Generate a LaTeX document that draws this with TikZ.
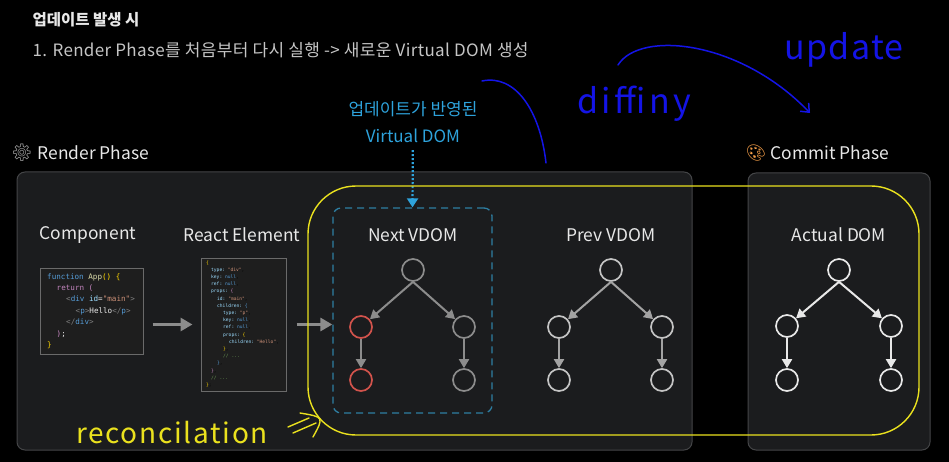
\documentclass[tikz,border=0pt]{standalone}
\usepackage{fontspec}
\setmainfont{Noto Sans CJK KR}
\setmonofont{DejaVu Sans Mono}
\newfontfamily\emojifont{Noto Emoji}
\usepackage{tikz}
\usetikzlibrary{arrows.meta}
\definecolor{PanelFill}{HTML}{1B1C1E}
\definecolor{PanelLine}{HTML}{444547}
\definecolor{SoftWhite}{HTML}{E8E8E8}
\definecolor{MidGray}{HTML}{8C8C8C}
\definecolor{PrevGray}{HTML}{C4C4C4}
\definecolor{DiffRed}{HTML}{D2534C}
\definecolor{DashBlue}{HTML}{2E7FA3}
\definecolor{SkyBlue}{HTML}{2EA3DC}
\definecolor{MarkerYellow}{HTML}{EAE11E}
\definecolor{InkBlue}{HTML}{1414E6}
\definecolor{CodeBg}{HTML}{1E1E1E}
\definecolor{CodeLine}{HTML}{6A6A6A}
\definecolor{CodeBlue}{HTML}{569CD6}
\definecolor{CodeKey}{HTML}{9CDCFE}
\definecolor{CodeFn}{HTML}{DCDCAA}
\definecolor{CodeBrace}{HTML}{FFD700}
\definecolor{CodePink}{HTML}{C586C0}
\definecolor{CodeStr}{HTML}{CE9178}
\definecolor{CodeGray}{HTML}{808080}
\definecolor{CodeGreen}{HTML}{6A9955}

\begin{document}
\begin{tikzpicture}[x=1pt, y=-1pt,
        >={Triangle[length=9pt, width=10pt]},
        panel/.style={draw=PanelLine, fill=PanelFill, line width=1pt, rounded corners=8pt},
        heading/.style={text=SoftWhite, font=\fontsize{17.4}{20}\selectfont},
        codebox/.style={draw=CodeLine, fill=CodeBg, line width=1pt, inner sep=0pt},
        vnode/.style={circle, draw, line width=1.7pt, minimum size=22pt, inner sep=0pt},
        treearrow/.style={->, line width=2pt},
        stagearrow/.style={->, MidGray, line width=3pt, >={Triangle[length=12pt, width=13pt]}},
        ink/.style={InkBlue, line width=1.5pt, line cap=round, line join=round},
        marker/.style={MarkerYellow, line width=1.4pt, line cap=round, line join=round}]

        \fill[black] (0,0) rectangle (949,462);
        \useasboundingbox (0,0) rectangle (949,462);

        \node[anchor=west, text=SoftWhite, font=\bfseries\fontsize{15.5}{18}\selectfont] (title) at (29,20) {업데이트 발생 시};
        \node[anchor=west, text=SoftWhite!85!black, font=\fontsize{17}{19}\selectfont\addfontfeature{LetterSpace=2}] (stepline) at (29,50) {1. Render Phase를 처음부터 다시 실행 -> 새로운 Virtual DOM 생성};

        \draw[panel] (17,172) rectangle (692,450);
        \draw[panel] (748,173) rectangle (930,450);

        \node[text=MidGray!70!white, font=\emojifont\fontsize{17}{18}\selectfont] (gear) at (22,153) {⚙};
        \node[heading, anchor=west] (renderlbl) at (34,153) {Render Phase};
        \node[text=orange!70!white, font=\emojifont\fontsize{16}{18}\selectfont] (palette) at (756,153) {🎨};
        \node[heading, anchor=west] (commitlbl) at (767,153) {Commit Phase};

        \node[heading] (complbl) at (88,235) {Component};
        \node[heading] (elemlbl) at (242,235) {React Element};
        \node[heading] (nextlbl) at (413,235) {Next VDOM};
        \node[heading] (prevlbl) at (611,235) {Prev VDOM};
        \node[heading] (actuallbl) at (839,235) {Actual DOM};

        % code boxes
        \node[codebox, minimum width=103pt, minimum height=86pt] (compbox) at (91.5,311) {};
        \node[anchor=west, inner sep=0pt, align=left, font=\ttfamily\fontsize{7.6}{11.4}\selectfont] (compcode) at (47,311)
          {\textcolor{CodeBlue}{function} \textcolor{CodeFn}{App}\textcolor{CodeBrace}{() \{}\\
           \hspace*{9.5pt}\textcolor{CodePink}{return (}\\
           \hspace*{19pt}\textcolor{CodeGray}{<}\textcolor{CodeBlue}{div} \textcolor{CodeKey}{id}\textcolor{SoftWhite}{=}\textcolor{CodeStr}{"main"}\textcolor{CodeGray}{>}\\
           \hspace*{28.5pt}\textcolor{CodeGray}{<}\textcolor{CodeBlue}{p}\textcolor{CodeGray}{>}\textcolor{SoftWhite}{Hello}\textcolor{CodeGray}{</}\textcolor{CodeBlue}{p}\textcolor{CodeGray}{>}\\
           \hspace*{19pt}\textcolor{CodeGray}{</}\textcolor{CodeBlue}{div}\textcolor{CodeGray}{>}\\
           \hspace*{9.5pt}\textcolor{CodePink}{)}\textcolor{SoftWhite}{;}\\
           \textcolor{CodeBrace}{\}}};

        \node[codebox, minimum width=85pt, minimum height=133pt] (elembox) at (243.5,324.5) {};
        \node[anchor=west, inner sep=0pt, align=left, font=\ttfamily\fontsize{4.6}{7.2}\selectfont] (elemcode) at (206,324)
          {\textcolor{CodeBrace}{\{}\\
           \hspace*{5pt}\textcolor{CodeKey}{type:} \textcolor{CodeStr}{"div"},\\
           \hspace*{5pt}\textcolor{CodeKey}{key:} \textcolor{CodeBlue}{null},\\
           \hspace*{5pt}\textcolor{CodeKey}{ref:} \textcolor{CodeBlue}{null},\\
           \hspace*{5pt}\textcolor{CodeKey}{props:} \textcolor{CodePink}{\{}\\
           \hspace*{11pt}\textcolor{CodeKey}{id:} \textcolor{CodeStr}{"main"},\\
           \hspace*{11pt}\textcolor{CodeKey}{children:} \textcolor{CodeBlue}{\{}\\
           \hspace*{17pt}\textcolor{CodeKey}{type:} \textcolor{CodeStr}{"p"},\\
           \hspace*{17pt}\textcolor{CodeKey}{key:} \textcolor{CodeBlue}{null},\\
           \hspace*{17pt}\textcolor{CodeKey}{ref:} \textcolor{CodeBlue}{null},\\
           \hspace*{17pt}\textcolor{CodeKey}{props:} \textcolor{CodeBrace}{\{}\\
           \hspace*{23pt}\textcolor{CodeKey}{children:} \textcolor{CodeStr}{"Hello"},\\
           \hspace*{17pt}\textcolor{CodeBrace}{\}},\\
           \hspace*{17pt}\textcolor{CodeGreen}{// ...}\\
           \hspace*{11pt}\textcolor{CodeBlue}{\}},\\
           \hspace*{5pt}\textcolor{CodePink}{\}},\\
           \hspace*{5pt}\textcolor{CodeGreen}{// ...}\\
           \textcolor{CodeBrace}{\}};};

        % next vdom frame
        \node[draw=DashBlue, line width=1.3pt, dash pattern=on 7pt off 5pt, rounded corners=8pt,
              minimum width=159pt, minimum height=205pt] (nextbox) at (412.5,310.5) {};
        \node[text=SkyBlue, align=center, font=\fontsize{17}{27}\selectfont] (updlbl) at (413,122) {업데이트가 반영된\\Virtual DOM};

        \draw[stagearrow, shorten <=9pt, shorten >=8pt] (compbox.east |- elembox) -- (elembox.west);
        \draw[stagearrow, shorten <=10pt] (elembox.east) -- (elembox -| nextbox.west);
        \draw[->, SkyBlue, line width=2.2pt, dash pattern=on 2pt off 2pt, shorten <=4pt,
              >={Triangle[length=9pt, width=11pt]}] (updlbl) -- (nextbox.north);

        % next vdom tree
        \node[vnode, draw=MidGray] (nroot) at (413,270) {};
        \node[vnode, draw=DiffRed] (nl1) at (361,327) {};
        \node[vnode, draw=MidGray] (nr1) at (464,327) {};
        \node[vnode, draw=DiffRed] (nl2) at (361,380) {};
        \node[vnode, draw=MidGray] (nr2) at (464,380) {};
        \draw[treearrow, MidGray] (nroot.south) -- (nl1);
        \draw[treearrow, MidGray] (nroot.south) -- (nr1);
        \draw[treearrow, MidGray] (nl1) -- (nl2);
        \draw[treearrow, MidGray] (nr1) -- (nr2);

        % prev vdom tree
        \node[vnode, draw=PrevGray] (proot) at (611,270) {};
        \node[vnode, draw=PrevGray] (pl1) at (559,327) {};
        \node[vnode, draw=PrevGray] (pr1) at (662,327) {};
        \node[vnode, draw=PrevGray] (pl2) at (559,380) {};
        \node[vnode, draw=PrevGray] (pr2) at (662,380) {};
        \draw[treearrow, MidGray!80!white] (proot.south) -- (pl1);
        \draw[treearrow, MidGray!80!white] (proot.south) -- (pr1);
        \draw[treearrow, MidGray!80!white] (pl1) -- (pl2);
        \draw[treearrow, MidGray!80!white] (pr1) -- (pr2);

        % actual dom tree
        \node[vnode, draw=SoftWhite] (aroot) at (839,270) {};
        \node[vnode, draw=SoftWhite] (al1) at (787,326) {};
        \node[vnode, draw=SoftWhite] (ar1) at (891,326) {};
        \node[vnode, draw=SoftWhite] (al2) at (787,380) {};
        \node[vnode, draw=SoftWhite] (ar2) at (891,380) {};
        \draw[treearrow, SoftWhite] (aroot.south) -- (al1);
        \draw[treearrow, SoftWhite] (aroot.south) -- (ar1);
        \draw[treearrow, SoftWhite] (al1) -- (al2);
        \draw[treearrow, SoftWhite] (ar1) -- (ar2);

        % hand-drawn notes
        \draw[marker, rounded corners=48pt] (308,186) rectangle (919,435);
        \node[text=MarkerYellow, font=\fontsize{28}{30}\selectfont\addfontfeature{LetterSpace=6}] (reconlbl) at (172,433) {reconcilation};
        \draw[marker] (288,427) -- (309,418);
        \draw[marker] (293,433) -- (316,423);
        \draw[marker] (300,413) .. controls (324,417) .. (313,437);

        \coordinate (diffTail) at (482,81);
        \coordinate (diffEnd) at (546,163);
        \coordinate (updTail) at (618,65);
        \coordinate (updTip) at (810,113);
        \draw[ink] (diffTail) .. controls (515,74) and (540,110) .. (diffEnd);
        \draw[ink, -{Straight Barb[length=7pt, width=12pt]}] (updTail) .. controls (640,30) and (740,40) .. (updTip);
        \node[text=InkBlue, font=\fontsize{34}{36}\selectfont\addfontfeature{LetterSpace=10}] (difflbl) at (634,104) {diffiny};
        \node[text=InkBlue, font=\fontsize{34}{36}\selectfont\addfontfeature{LetterSpace=4}] (updlbltxt) at (844,50) {update};
      \end{tikzpicture}
\end{document}
